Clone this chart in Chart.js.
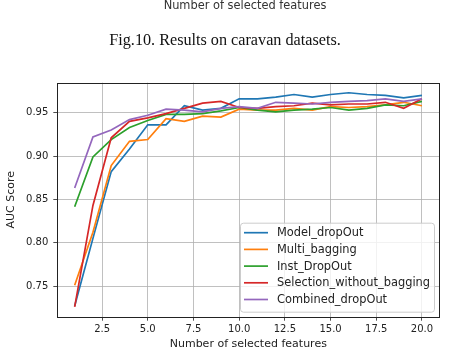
<!DOCTYPE html>
<html lang="en">
<head>
<meta charset="UTF-8">
<title>Results on caravan datasets</title>
<script src="https://cdn.jsdelivr.net/npm/chart.js"></script>
<style>
  html, body { margin: 0; padding: 0; background: #fff; }
  .page { position: relative; width: 451px; height: 357px; overflow: hidden; background: #fff; }
  #chart { position: absolute; left: 0; top: 0; }
  .prev-label {
    position: absolute; left: 245px; top: -1.5px; transform: translateX(-50%);
    font: 11.4px/13px "DejaVu Sans", sans-serif; color: #333; white-space: nowrap;
  }
  .caption {
    position: absolute; left: 225px; top: 31px; transform: translateX(-50%);
    font: 16.2px/18px "Liberation Serif", "Times New Roman", serif; color: #111; white-space: nowrap;
  }
</style>
</head>
<body>
<div class="page">
  <canvas id="chart" width="451" height="357"></canvas>
  <div class="prev-label">Number of selected features</div>
  <div class="caption">Fig.10. Results on caravan datasets.</div>
</div>
<script>
  // number of selected features (x axis)
  const features = [1, 2, 3, 4, 5, 6, 7, 8, 9, 10, 11, 12, 13, 14, 15, 16, 17, 18, 19, 20];

  // AUC per method
  const modelDropOut = [0.727, 0.805, 0.882, 0.908, 0.936, 0.936, 0.958, 0.953, 0.955, 0.966,
                        0.966, 0.968, 0.971, 0.968, 0.971, 0.973, 0.971, 0.970, 0.967, 0.970];
  const multiBagging = [0.751, 0.812, 0.889, 0.917, 0.919, 0.943, 0.940, 0.946, 0.945, 0.954,
                        0.953, 0.953, 0.955, 0.953, 0.957, 0.956, 0.957, 0.959, 0.962, 0.958];
  const instDropOut  = [0.8415, 0.899, 0.919, 0.933, 0.941, 0.948, 0.948, 0.949, 0.952, 0.956,
                        0.953, 0.951, 0.953, 0.954, 0.956, 0.953, 0.955, 0.959, 0.958, 0.963];
  const selNoBagging = [0.726, 0.843, 0.921, 0.940, 0.944, 0.949, 0.955, 0.961, 0.963, 0.956,
                        0.955, 0.957, 0.958, 0.961, 0.959, 0.960, 0.960, 0.962, 0.955, 0.966];
  const combinedDropOut = [0.863, 0.922, 0.930, 0.942, 0.947, 0.954, 0.953, 0.951, 0.955, 0.957,
                           0.955, 0.962, 0.961, 0.960, 0.962, 0.963, 0.964, 0.966, 0.963, 0.966];

  const seriesNames = ['Model_dropOut', 'Multi_bagging', 'Inst_DropOut', 'Selection_without_bagging', 'Combined_dropOut'];
  const seriesValues = [modelDropOut, multiBagging, instDropOut, selNoBagging, combinedDropOut];
  const seriesColors = ['#1f77b4', '#ff7f0e', '#2ca02c', '#d62728', '#9467bd'];

  const xTicks = [2.5, 5.0, 7.5, 10.0, 12.5, 15.0, 17.5, 20.0];
  const yTicks = [0.75, 0.80, 0.85, 0.90, 0.95];

  const tickFont = { family: 'DejaVu Sans', size: 10 };
  const labelFont = { family: 'DejaVu Sans', size: 11 };
  const legendFontSize = 11.4;
  const textColor = '#222';

  // matplotlib-style box around the axes
  const frame = {
    id: 'frame',
    afterDatasetsDraw(chart) {
      const { ctx, chartArea: a } = chart;
      ctx.save();
      ctx.strokeStyle = '#222';
      ctx.lineWidth = 1;
      ctx.strokeRect(Math.round(a.left) + 0.5, Math.round(a.top) + 0.5,
                     Math.round(a.right - a.left), Math.round(a.bottom - a.top));
      ctx.restore();
    }
  };

  // legend box in the lower right corner of the plot
  const boxLegend = {
    id: 'boxLegend',
    afterDraw(chart) {
      const { ctx, chartArea: a } = chart;
      const w = 194, h = 89;
      const x = a.right - 5.3 - w, y = a.bottom - 5 - h;
      ctx.save();
      ctx.beginPath();
      ctx.roundRect(x + 0.5, y + 0.5, w, h, 3);
      ctx.fillStyle = 'rgba(255,255,255,0.8)';
      ctx.fill();
      ctx.strokeStyle = '#cccccc';
      ctx.lineWidth = 1;
      ctx.stroke();
      ctx.font = legendFontSize + 'px "DejaVu Sans"';
      ctx.textBaseline = 'middle';
      ctx.fillStyle = textColor;
      chart.data.datasets.forEach((ds, i) => {
        const ry = y + 10 + i * 16.7;
        ctx.beginPath();
        ctx.moveTo(x + 4, ry);
        ctx.lineTo(x + 28, ry);
        ctx.strokeStyle = ds.borderColor;
        ctx.lineWidth = 1.7;
        ctx.stroke();
        ctx.fillText(ds.label, x + 37, ry + 0.5);
      });
      ctx.restore();
    }
  };

  new Chart(document.getElementById('chart'), {
    type: 'line',
    data: {
      datasets: seriesNames.map((name, i) => ({
        label: name,
        data: features.map((f, j) => ({ x: f, y: seriesValues[i][j] })),
        borderColor: seriesColors[i],
        backgroundColor: seriesColors[i],
        borderWidth: 1.7,
        pointRadius: 0,
        tension: 0,
        fill: false,
        order: seriesNames.length - i
      }))
    },
    options: {
      responsive: false,
      animation: false,
      devicePixelRatio: 1,
      layout: { padding: { top: 82.7, right: 11.7, left: 0, bottom: 0 } },
      plugins: { legend: { display: false }, tooltip: { enabled: false } },
      scales: {
        x: {
          type: 'linear',
          min: 0.05,
          max: 20.95,
          afterBuildTicks: s => { s.ticks = xTicks.map(v => ({ value: v })); },
          afterFit: s => { s.height = 40.3; },
          ticks: { callback: v => v.toFixed(1), padding: 3, font: tickFont, color: textColor, maxRotation: 0, autoSkip: false },
          grid: { color: '#b0b0b0', lineWidth: 0.8, tickColor: '#222', tickLength: 4 },
          border: { display: false },
          title: { display: true, text: 'Number of selected features', font: labelFont, color: textColor, padding: { top: 0, bottom: 6.4 } }
        },
        y: {
          min: 0.7146,
          max: 0.9846,
          afterBuildTicks: s => { s.ticks = yTicks.map(v => ({ value: v })); },
          afterFit: s => { s.width = 57.3; },
          ticks: { callback: v => v.toFixed(2), padding: 5, font: tickFont, color: textColor, autoSkip: false },
          grid: { color: '#b0b0b0', lineWidth: 0.8, tickColor: '#222', tickLength: 4 },
          border: { display: false },
          title: { display: true, text: 'AUC Score', font: labelFont, color: textColor, padding: { top: 5, bottom: 0 } }
        }
      }
    },
    plugins: [frame, boxLegend]
  });
</script>
</body>
</html>
